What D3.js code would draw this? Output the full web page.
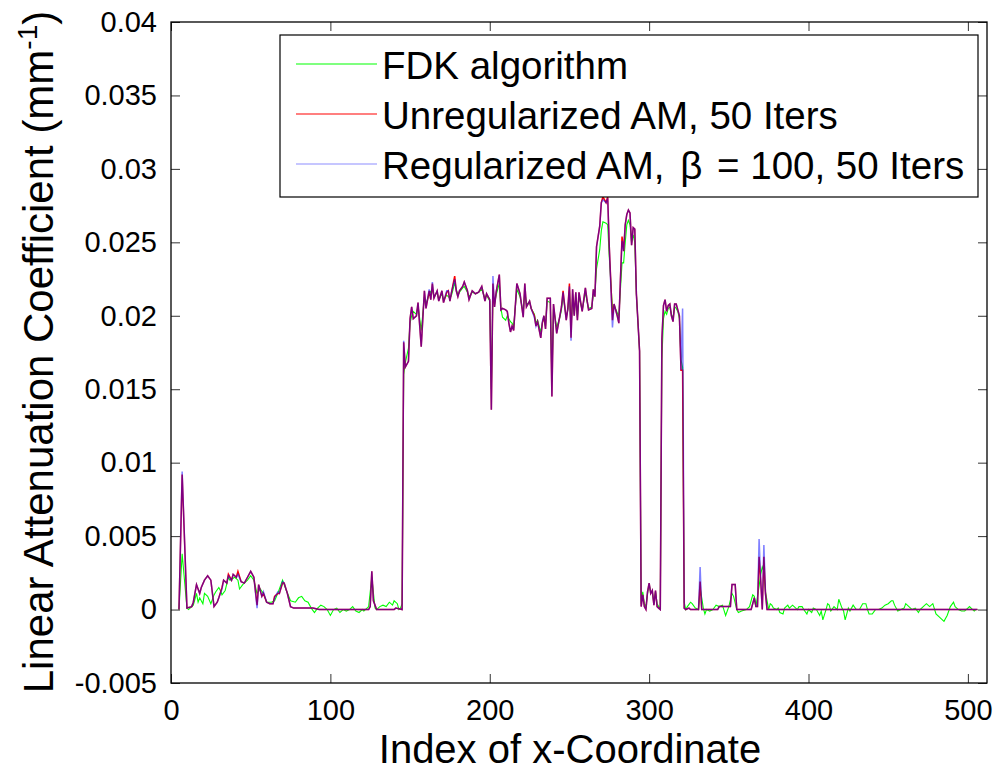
<!DOCTYPE html>
<html>
<head>
<meta charset="utf-8">
<script src="https://cdnjs.cloudflare.com/ajax/libs/d3/7.8.5/d3.min.js"></script>
<style>
body { margin: 0; background: #fff; }
svg text { font-family: "Liberation Sans", Arial, sans-serif; fill: #000; }
</style>
</head>
<body>
<div id="chart"></div>
<script>
// tick values and labels
var xTicks = [0, 100, 200, 300, 400, 500];
var yTicks = [-0.005, 0, 0.005, 0.01, 0.015, 0.02, 0.025, 0.03, 0.035, 0.04];
var yTickLabels = ["-0.005", "0", "0.005", "0.01", "0.015", "0.02", "0.025", "0.03", "0.035", "0.04"];

// legend entries, split so the TeX-like spacing round beta can be kept
var seriesNames = [
  ["FDK algorithm"],
  ["Unregularized AM, 50 Iters"],
  ["Regularized AM, ", "\u03b2", " = ", "100, 50 Iters"]
];

// FDK algorithm : [index, value]
var fdkPoints = [
  [5,0],[7,0.0038],[10,0.0001],[11,0],[14,0.0003],[16,0.0011],[17,0.0005],[18,0.0008],[20,0.0004],[21,0.0011],
  [23,0.0009],[25,0.0004],[27,0.0010],[28,0.0012],[30,0.0015],[31,0.0013],[32,0.0010],[34,0.0013],[36,0.0022],[37,0.0020],
  [40,0.0022],[42,0.0020],[43,0.0014],[45,0.0017],[48,0.0020],[50,0.0023],[52,0.0020],[54,0.0011],[56,0.0014],[58,0.0011],
  [60,0.0005],[63,0.0005],[65,0.0006],[67,0.0011],[70,0.0020],[72,0.0014],[75,0.0006],[78,0.0005],[80,0.0008],[82,0.0009],
  [84,0.0006],[86,0.0005],[88,0.0001],[90,-0.0002],[92,0.0001],[94,0.0003],[96,0.0002],[98,0],[100,-0.0004],[102,0],
  [104,0.0001],[106,-0.0002],[108,0],[110,-0.0001],[112,0],[114,0.0002],[116,-0.0001],[118,-0.0002],[120,0],[121,-0.0001],
  [123,0.0001],[124,0.0002],[126,0.0022],[128,0.0001],[129,0],[131,0.0002],[133,0.0003],[135,0.0002],[137,0.0005],[139,0.0003],
  [140,0.0006],[142,0.0004],[143,0],[144,0.0001],[145,0.0004],[146,0.0160],[147,0.0168],[149,0.0178],[150,0.0195],[151,0.0200],
  [152,0.0203],[154,0.0201],[155,0.0207],[157,0.0190],[159,0.0213],[160,0.0208],[162,0.0215],[164,0.0218],[165,0.0213],[167,0.0216],
  [168,0.0211],[170,0.0215],[171,0.0211],[173,0.0214],[175,0.0212],[176,0.0214],[178,0.0222],[180,0.0214],[181,0.0216],[183,0.0219],
  [184,0.0220],[186,0.0216],[187,0.0213],[189,0.0216],[191,0.0215],[193,0.0216],[195,0.0218],[197,0.0212],[198,0.0214],[200,0.0210],
  [201,0.0150],[202,0.0215],[203,0.0208],[204,0.0214],[206,0.0222],[207,0.0205],[208,0.0199],[210,0.0197],[211,0.0200],[212,0.0198],
  [213,0.0196],[214,0.0195],[215,0.0193],[217,0.0218],[219,0.0213],[221,0.0202],[222,0.0217],[223,0.0208],[225,0.0209],[226,0.0205],
  [228,0.0201],[229,0.0195],[230,0.0197],[232,0.0189],[233,0.0195],[234,0.0199],[235,0.0193],[236,0.0210],[238,0.0209],[239,0.0155],
  [240,0.0205],[242,0.0192],[244,0.0199],[245,0.0204],[246,0.0214],[248,0.0199],[249,0.0204],[250,0.0217],[251,0.0190],[252,0.0214],
  [253,0.0201],[254,0.0213],[255,0.0199],[256,0.0213],[258,0.0204],[260,0.0216],[261,0.0210],[262,0.0205],[264,0.0206],[265,0.0214],
  [266,0.0216],[267,0.0232],[269,0.0245],[270,0.0258],[271,0.0264],[273,0.0263],[274,0.0262],[275,0.0240],[277,0.0205],[278,0.0207],
  [280,0.0202],[281,0.0200],[282,0.0218],[283,0.0236],[284,0.0236],[285,0.0250],[286,0.0262],[287,0.0265],[288,0.0262],[289,0.0250],
  [290,0.0255],[291,0.0250],[292,0.0215],[294,0.0176],[295,0.0004],[296,0.0012],[297,0.0004],[298,0.0002],[299,0.0011],[300,0.0017],
  [301,0.0012],[302,0.0012],[303,0.0004],[304,0.0012],[305,0.0004],[306,0.0002],[307,0.0001],[308,0.0170],[309,0.0198],[310,0.0203],
  [311,0.0201],[312,0.0205],[313,0.0206],[314,0.0201],[315,0.0198],[316,0.0206],[317,0.0205],[318,0.0203],[319,0.0198],[320,0.0170],
  [321,0.0165],[322,0.0005],[323,0],[324,0.0002],[326,0.0005],[327,0.0004],[329,0.0001],[331,0],[332,0.0015],[334,0.0001],
  [335,-0.0003],[336,0],[338,-0.0001],[340,0],[342,0.0003],[344,0.0002],[346,0.0003],[348,-0.0004],[350,0.0002],[352,0.0011],
  [353,0.0009],[355,0],[356,-0.0002],[358,-0.0001],[361,0],[363,0.0002],[365,0.0010],[366,0.0009],[367,0.0002],[369,0.0016],
  [370,0.0024],[371,0.0029],[372,0.0026],[373,0.0012],[375,0],[376,0.0004],[377,0.0003],[378,0.0001],[380,0],[381,0.0001],
  [382,-0.0002],[384,-0.0003],[385,0.0001],[387,0.0003],[388,0.0001],[390,0.0003],[391,0.0002],[393,0],[394,0.0002],[396,0.0002],
  [397,0],[399,-0.0003],[400,0],[402,-0.0002],[403,0.0001],[405,0],[407,-0.0004],[408,-0.0001],[409,-0.0007],[411,0],
  [412,0.0004],[413,0.0003],[414,-0.0001],[416,0.0002],[418,0],[419,0.0007],[421,0.0001],[422,-0.0001],[423,-0.0007],[425,0.0001],
  [426,-0.0001],[428,0.0003],[430,0],[432,0],[434,0.0004],[436,0.0004],[437,0],[438,-0.0003],[440,-0.0003],[442,0],
  [444,0],[446,0.0001],[448,0.0003],[450,0.0004],[452,0.0006],[453,0.0006],[454,0.0003],[456,-0.0001],[458,0],[460,0.0001],
  [461,0.0004],[463,0.0002],[465,0],[467,0.0001],[469,-0.0002],[470,0],[472,0.0002],[474,0.0004],[476,0.0002],[478,0.0004],
  [480,-0.0003],[482,-0.0005],[484,-0.0007],[485,-0.0008],[487,-0.0004],[489,0.0002],[491,0.0005],[492,0.0002],[494,0],[496,-0.0001],
  [498,-0.0001],[500,0.0001],[501,0.0002],[503,0],[504,-0.0001],[505,0],[506,0]
];

// AM results : [index, unregularized, regularized]
var amPoints = [
  [5,0,0],[7,0.0092,0.0094],[10,0.0001,0.0001],[13,0.0002,0.0002],[14,0.0005,0.0005],[16,0.0017,0.0017],[18,0.0011,0.0011],
  [19,0.0015,0.0015],[21,0.0020,0.0020],[23,0.0023,0.0023],[25,0.0020,0.0020],[27,0.0002,0.0002],[29,0.0005,0.0005],
  [30,0.0008,0.0008],[32,0.0015,0.0014],[33,0.0020,0.0020],[35,0.0018,0.0018],[36,0.0024,0.0023],[38,0.0020,0.0020],
  [39,0.0024,0.0024],[41,0.0022,0.0022],[42,0.0026,0.0024],[44,0.0019,0.0019],[46,0.0018,0.0018],[48,0.0022,0.0022],
  [50,0.0026,0.0026],[52,0.0022,0.0022],[54,0.0003,0.0001],[55,0.0017,0.0017],[57,0.0009,0.0009],[58,0.0011,0.0012],
  [60,0.0005,0.0005],[62,0.0004,0.0004],[64,0.0004,0.0004],[65,0.0009,0.0008],[67,0.0011,0.0012],[68,0.0011,0.0011],
  [70,0.0018,0.0019],[71,0.0018,0.0018],[73,0.0011,0.0011],[75,0.0002,0.0002],[77,0.0001,0.0001],[86,0.0001,0.0001],
  [89,0.0001,0.0001],[93,0,0],[124,0,0],[125,0.0002,0.0002],[126,0.0026,0.0026],[127,0.0006,0.0006],[129,0,0],
  [140,0,0],[141,0.0001,0.0001],[145,0,0],[146,0.0182,0.0183],[147,0.0165,0.0165],[149,0.0169,0.0169],[150,0.0198,0.0198],
  [151,0.0206,0.0206],[152,0.0198,0.0198],[154,0.0200,0.0200],[155,0.0209,0.0209],[157,0.0179,0.0179],[159,0.0217,0.0217],
  [160,0.0205,0.0205],[162,0.0217,0.0218],[163,0.0211,0.0211],[164,0.0222,0.0223],[165,0.0212,0.0212],[167,0.0217,0.0217],
  [168,0.0210,0.0210],[170,0.0217,0.0217],[171,0.0209,0.0209],[173,0.0216,0.0217],[174,0.0217,0.0217],[175,0.0210,0.0210],
  [176,0.0216,0.0216],[178,0.0227,0.0225],[179,0.0217,0.0217],[180,0.0213,0.0213],[181,0.0217,0.0217],[183,0.0220,0.0220],
  [184,0.0223,0.0223],[186,0.0217,0.0217],[187,0.0211,0.0211],[189,0.0217,0.0217],[191,0.0215,0.0215],[193,0.0216,0.0216],
  [195,0.0220,0.0220],[197,0.0210,0.0210],[198,0.0215,0.0215],[200,0.0211,0.0211],[201,0.0136,0.0136],[202,0.0222,0.0227],
  [203,0.0206,0.0206],[204,0.0216,0.0216],[206,0.0228,0.0228],[207,0.0204,0.0204],[208,0.0205,0.0205],[210,0.0204,0.0204],
  [211,0.0203,0.0203],[212,0.0195,0.0195],[213,0.0189,0.0189],[214,0.0193,0.0193],[215,0.0190,0.0190],[217,0.0222,0.0222],
  [219,0.0215,0.0215],[221,0.0199,0.0199],[222,0.0222,0.0222],[223,0.0206,0.0206],[225,0.0210,0.0210],[226,0.0205,0.0205],
  [228,0.0200,0.0199],[229,0.0193,0.0193],[230,0.0196,0.0196],[232,0.0185,0.0185],[233,0.0195,0.0196],[234,0.0200,0.0200],
  [235,0.0191,0.0191],[236,0.0212,0.0212],[238,0.0212,0.0212],[239,0.0145,0.0145],[240,0.0208,0.0208],[242,0.0188,0.0188],
  [244,0.0200,0.0200],[245,0.0206,0.0206],[246,0.0217,0.0216],[248,0.0197,0.0197],[249,0.0205,0.0205],[250,0.0222,0.0220],
  [251,0.0185,0.0183],[252,0.0218,0.0218],[253,0.0200,0.0200],[254,0.0216,0.0216],[255,0.0197,0.0197],[256,0.0216,0.0216],
  [258,0.0203,0.0203],[260,0.0219,0.0219],[261,0.0211,0.0211],[262,0.0204,0.0204],[264,0.0205,0.0205],[265,0.0218,0.0218],
  [266,0.0213,0.0213],[267,0.0247,0.0247],[269,0.0261,0.0261],[270,0.0277,0.0277],[271,0.0281,0.0279],[273,0.0277,0.0277],
  [274,0.0281,0.0280],[275,0.0247,0.0247],[277,0.0197,0.0192],[278,0.0208,0.0208],[280,0.0200,0.0200],[281,0.0195,0.0195],
  [282,0.0225,0.0225],[283,0.0254,0.0251],[284,0.0244,0.0244],[285,0.0262,0.0262],[286,0.0269,0.0269],[287,0.0272,0.0272],
  [288,0.0270,0.0270],[289,0.0248,0.0248],[290,0.0260,0.0260],[291,0.0259,0.0259],[292,0.0215,0.0215],[294,0.0176,0.0176],
  [295,0.0002,0.0002],[296,0.0010,0.0010],[297,0.0002,0.0002],[298,0,0],[299,0.0012,0.0012],[300,0.0018,0.0018],
  [301,0.0011,0.0011],[302,0.0013,0.0013],[303,0.0003,0.0003],[304,0.0013,0.0013],[305,0.0002,0.0002],[306,0.0001,0.0001],
  [307,0,0],[308,0.0184,0.0184],[309,0.0207,0.0207],[310,0.0211,0.0211],[311,0.0203,0.0203],[312,0.0207,0.0207],
  [313,0.0208,0.0208],[314,0.0200,0.0200],[315,0.0196,0.0196],[316,0.0208,0.0208],[317,0.0208,0.0208],[318,0.0204,0.0204],
  [319,0.0200,0.0200],[320,0.0163,0.0163],[321,0.0163,0.0205],[322,0.0001,0.0001],[323,0,0],[325,0.0001,0.0001],
  [326,0,0],[331,0,0],[332,0.0019,0.0029],[333,0,0],[343,0,0],[344,0.0002,0.0002],[351,0.0002,0.0002],
  [352,0.0017,0.0017],[354,0.0017,0.0017],[355,0,0],[364,0,0],[365,0.0004,0.0004],[366,0.0008,0.0008],
  [367,0.0002,0.0002],[368,0.0002,0.0002],[369,0.0036,0.0048],[370,0.0020,0.0020],[371,0,0],[372,0.0036,0.0044],
  [373,0.0011,0.0011],[374,0,0],[506,0,0]
];

var width = 998, height = 772;
var plot = {left: 171, top: 22, right: 987, bottom: 683};

var svg = d3.select("#chart").append("svg")
  .attr("width", width)
  .attr("height", height);

var x = d3.scaleLinear().domain([0, 512]).range([plot.left, plot.right]);
var y = d3.scaleLinear().domain([-0.005, 0.04]).range([plot.bottom, plot.top]);

svg.append("clipPath").attr("id", "clip")
  .append("rect")
  .attr("x", plot.left).attr("y", plot.top)
  .attr("width", plot.right - plot.left).attr("height", plot.bottom - plot.top);

// series
var unregData = amPoints.map(function(d) { return [d[0], d[1]]; });
var regData = amPoints.map(function(d) { return [d[0], d[2]]; });

var line = d3.line()
  .x(function(d) { return x(d[0]); })
  .y(function(d) { return y(d[1]); });

var lines = svg.append("g").attr("clip-path", "url(#clip)");

lines.append("path").datum(fdkPoints)
  .attr("d", line).attr("fill", "none")
  .attr("stroke", "#00ff00").attr("stroke-width", 1.1);

lines.append("path").datum(unregData)
  .attr("d", line).attr("fill", "none")
  .attr("stroke", "#ff0000").attr("stroke-width", 1.5);

// regularized drawn half transparent on top, so the overlap reads purple
lines.append("path").datum(regData)
  .attr("d", line).attr("fill", "none")
  .attr("stroke", "#0000ff").attr("stroke-opacity", 0.5).attr("stroke-width", 1.5);

// axes (ticks point inward)
var tickLen = 9;
var axisB = svg.append("g")
  .attr("transform", "translate(0," + plot.bottom + ")")
  .call(d3.axisBottom(x).tickValues(xTicks).tickSize(-tickLen).tickPadding(16));
var axisL = svg.append("g")
  .attr("transform", "translate(" + plot.left + ",0)")
  .call(d3.axisLeft(y).tickValues(yTicks).tickSize(-tickLen).tickPadding(14)
    .tickFormat(function(d, i) { return yTickLabels[i]; }));
var axisT = svg.append("g")
  .attr("transform", "translate(0," + plot.top + ")")
  .call(d3.axisTop(x).tickValues(xTicks).tickSize(-tickLen).tickFormat(""));
var axisR = svg.append("g")
  .attr("transform", "translate(" + plot.right + ",0)")
  .call(d3.axisRight(y).tickValues(yTicks).tickSize(-tickLen).tickFormat(""));

[axisB, axisL, axisT, axisR].forEach(function(a) {
  a.select(".domain").remove();
  a.selectAll(".tick line").attr("stroke", "#333").attr("stroke-width", 1);
  a.selectAll(".tick text").style("font-size", "29px").attr("fill", "#000");
});

// frame
svg.append("rect")
  .attr("x", plot.left).attr("y", plot.top)
  .attr("width", plot.right - plot.left).attr("height", plot.bottom - plot.top)
  .attr("fill", "none").attr("stroke", "#000").attr("stroke-width", 1.3);

// axis labels
svg.append("text")
  .attr("x", 570).attr("y", 763)
  .attr("text-anchor", "middle")
  .style("font-size", "40px")
  .text("Index of x-Coordinate");

var yLab = svg.append("text")
  .attr("transform", "translate(53,352) rotate(-90)")
  .attr("text-anchor", "middle")
  .style("font-size", "42px");
yLab.append("tspan").text("Linear Attenuation Coefficient (mm");
yLab.append("tspan").attr("dy", -16).style("font-size", "28px").text("-1");
yLab.append("tspan").attr("dy", 16).text(")");

// legend
var legend = svg.append("g");
legend.append("rect")
  .attr("x", 280).attr("y", 35).attr("width", 698).attr("height", 162)
  .attr("fill", "#fff").attr("stroke", "#000").attr("stroke-width", 1.2);

var legendColors = ["#00ff00", "#ff0000", "#0000ff"];
var legendOpacity = [1, 1, 0.45];
var legendGaps = [0, 5, 4, 0];
seriesNames.forEach(function(parts, i) {
  var ly = 64 + i * 50;
  legend.append("line")
    .attr("x1", 296).attr("x2", 377).attr("y1", ly).attr("y2", ly)
    .attr("stroke", legendColors[i]).attr("stroke-opacity", legendOpacity[i]).attr("stroke-width", 1.2);
  var t = legend.append("text")
    .attr("x", 382).attr("y", ly + 15)
    .style("font-size", "38.5px")
    .style("white-space", "pre");
  parts.forEach(function(p, j) {
    var span = t.append("tspan").text(p);
    if (j > 0) span.attr("dx", legendGaps[j]);
  });
});
</script>
</body>
</html>
